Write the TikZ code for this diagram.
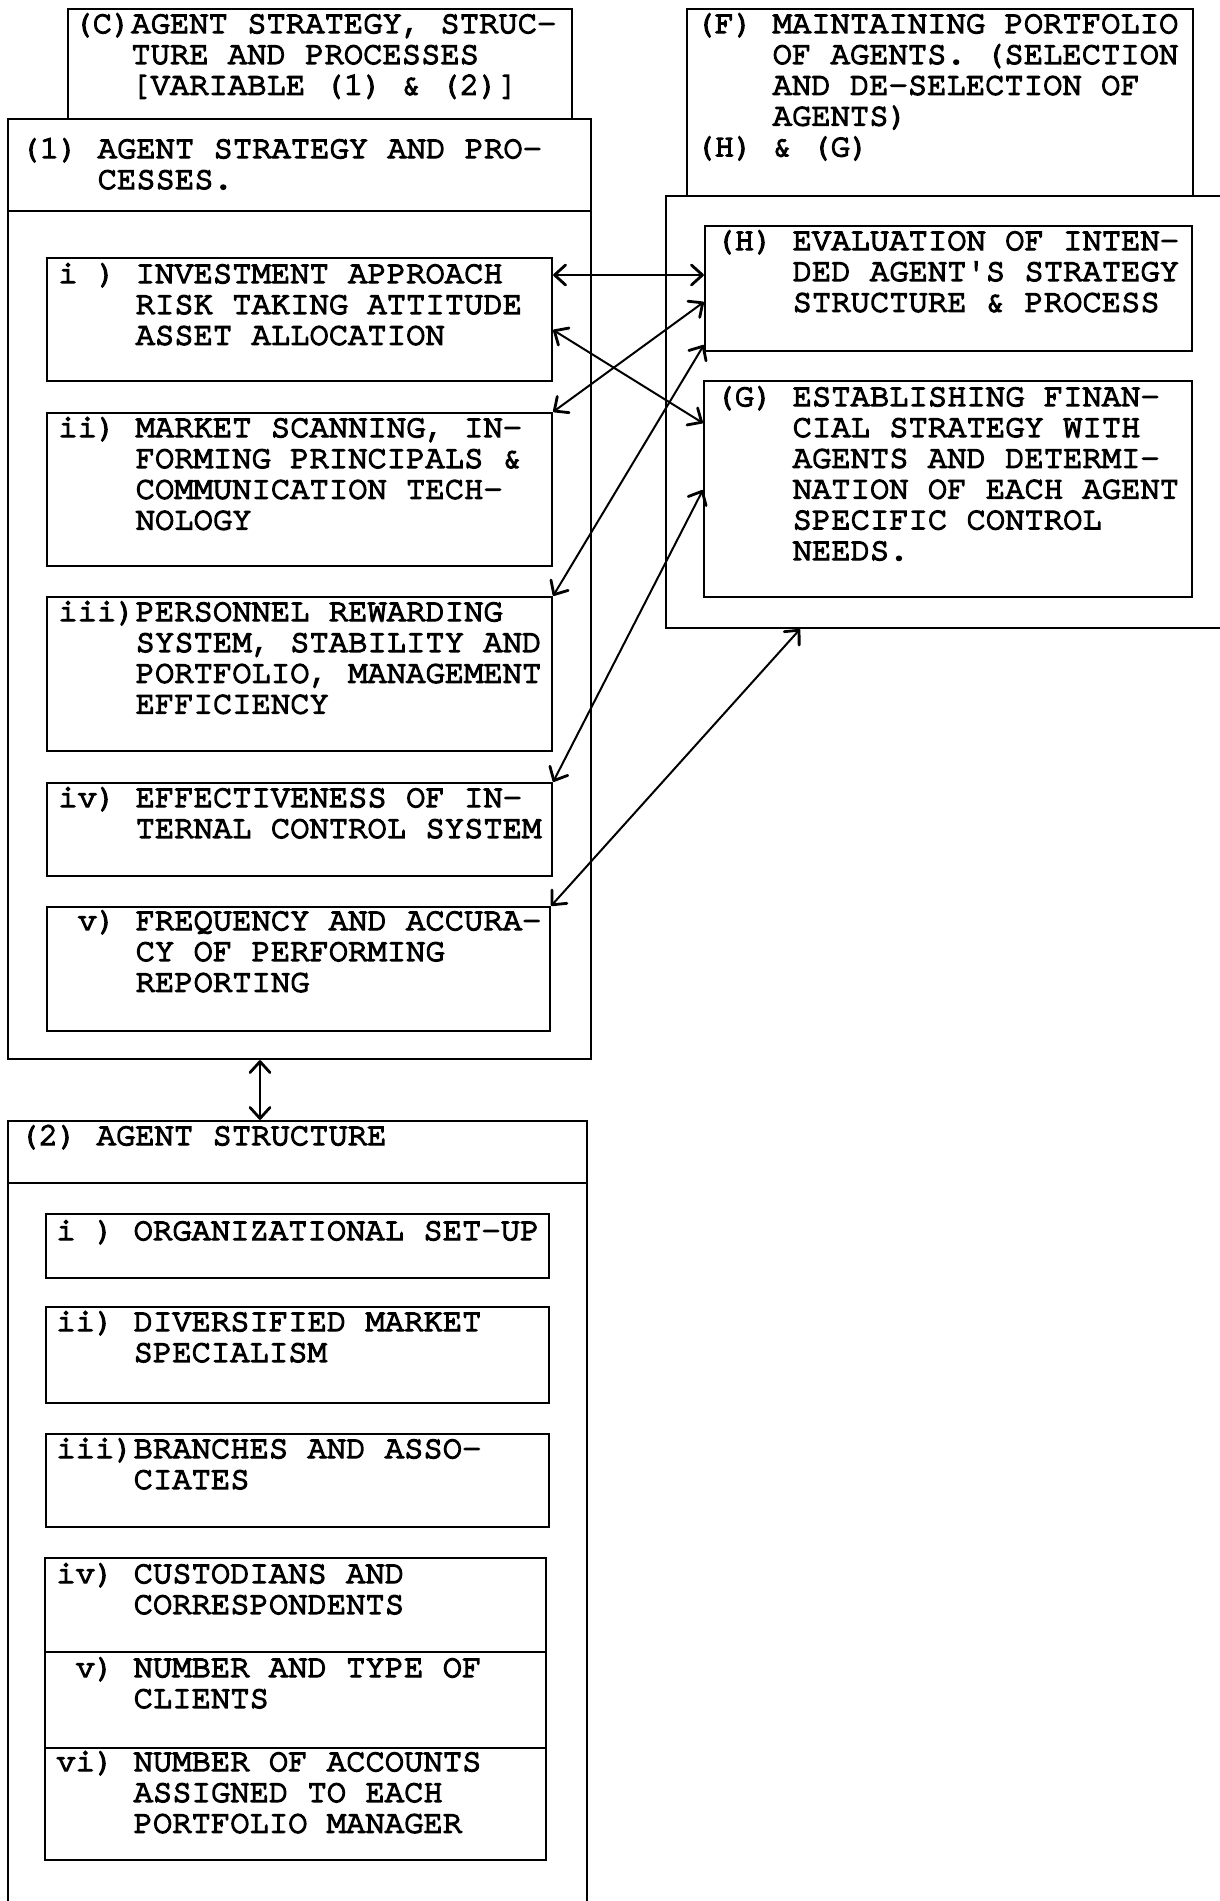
\documentclass[tikz,border=0pt]{standalone}
\usepackage{fontspec}
\setmonofont{TeX Gyre Cursor}[UprightFeatures={FakeBold=4.5}]
\usetikzlibrary{fit,arrows.meta,calc}
\newcommand\ind{\hspace*{2.4em}}
\newcommand\tx[3]{\node[anchor=base west,inner sep=0pt] (#1) at (#2) {\parbox[t]{280pt}{\raggedright\ttfamily\fontsize{16.1pt}{15.4pt}\selectfont #3}};}
\begin{document}
\begin{tikzpicture}[x=0.5pt,y=-0.5pt,
  box/.style={draw, line width=1.15pt, inner sep=0pt},
  sep/.style={line width=1.15pt},
  link/.style={line width=1pt, {Straight Barb[length=5.5pt,width=10pt,line width=1.4pt,round]}-{Straight Barb[length=5.5pt,width=10pt,line width=1.4pt,round]}}]
\useasboundingbox (0,0) rectangle (1220,1901);
\fill[white] (0,0) rectangle (1220,1901);
\clip (0,0) rectangle (1220,1901);
% outer boxes
\node[box, fit={(68,9) (572,119)}] (C) {};
\node[box, fit={(687,9) (1193,196)}] (F) {};
\node[box, fit={(8,119) (591,1059)}] (B1) {};
\node[box, fit={(666,196) (1240,628)}] (R) {};
\node[box, fit={(8,1121) (587,1915)}] (B2) {};
\draw[sep] (B1.west |- 0,211) -- (B1.east |- 0,211);
\draw[sep] (B2.west |- 0,1183) -- (B2.east |- 0,1183);
% inner boxes
\node[box, fit={(705,226) (1192,351)}] (H) {};
\node[box, fit={(704,381) (1192,597)}] (G) {};
\node[box, fit={(47,258) (552,381)}] (p1) {};
\node[box, fit={(47,413) (552,566)}] (p2) {};
\node[box, fit={(47,597) (552,751)}] (p3) {};
\node[box, fit={(47,783) (552,876)}] (p4) {};
\node[box, fit={(47,907) (550,1031)}] (p5) {};
\node[box, fit={(46,1214) (549,1278)}] (s1) {};
\node[box, fit={(46,1307) (549,1403)}] (s2) {};
\node[box, fit={(46,1434) (549,1527)}] (s3) {};
\node[box, fit={(45,1558) (546,1652)}] (s4) {};
\node[box, fit={(45,1652) (546,1748)}] (s5) {};
\node[box, fit={(45,1748) (546,1860)}] (s6) {};
% texts
\tx{tC}{73,33}{(C)AGENT STRATEGY, STRUC-\\\hphantom{(C)}TURE AND PROCESSES\\\hphantom{(C)}[VARIABLE (1) \& (2)]}
\tx{tF}{695,33}{(F) MAINTAINING PORTFOLIO\\\ind OF AGENTS. (SELECTION\\\ind AND DE-SELECTION OF\\\ind AGENTS)\\(H) \& (G)}
\tx{tB1}{20,158}{(1) AGENT STRATEGY AND PRO-\\\ind CESSES.}
\tx{tp1}{58,283}{i ) INVESTMENT APPROACH\\\ind RISK TAKING ATTITUDE\\\ind ASSET ALLOCATION}
\tx{tp2}{58,437}{ii) MARKET SCANNING, IN-\\\ind FORMING PRINCIPALS \&\\\ind COMMUNICATION TECH-\\\ind NOLOGY}
\tx{tp3}{58,621}{iii)PERSONNEL REWARDING\\\ind SYSTEM, STABILITY AND\\\ind PORTFOLIO, MANAGEMENT\\\ind EFFICIENCY}
\tx{tp4}{58,807}{iv) EFFECTIVENESS OF IN-\\\ind TERNAL CONTROL SYSTEM}
\tx{tp5}{58,930}{\hphantom{i}v) FREQUENCY AND ACCURA-\\\ind CY OF PERFORMING\\\ind REPORTING}
\tx{tH}{715,250}{(H) EVALUATION OF INTEN-\\\ind DED AGENT'S STRATEGY\\\ind STRUCTURE \& PROCESS}
\tx{tG}{715,406}{(G) ESTABLISHING FINAN-\\\ind CIAL STRATEGY WITH\\\ind AGENTS AND DETERMI-\\\ind NATION OF EACH AGENT\\\ind SPECIFIC CONTROL\\\ind NEEDS.}
\tx{tB2}{19,1145}{(2) AGENT STRUCTURE}
\tx{ts1}{56,1240}{i ) ORGANIZATIONAL SET-UP}
\tx{ts2}{56,1331}{ii) DIVERSIFIED MARKET\\\ind SPECIALISM}
\tx{ts3}{56,1458}{iii)BRANCHES AND ASSO-\\\ind CIATES}
\tx{ts4}{56,1583}{iv) CUSTODIANS AND\\\ind CORRESPONDENTS}
\tx{ts5}{56,1677}{\hphantom{i}v) NUMBER AND TYPE OF\\\ind CLIENTS}
\tx{ts6}{56,1771}{vi) NUMBER OF ACCOUNTS\\\ind ASSIGNED TO EACH\\\ind PORTFOLIO MANAGER}
% connectors
\draw[link] (p1.east |- 0,275) -- (H.west |- 0,275);
\draw[link] (p1.east |- 0,330) -- (G.west |- 0,423);
\draw[link] (p2.north east) -- (H.west |- 0,302);
\draw[link] (p3.north east) -- (H.west |- 0,345);
\draw[link] (p4.north east) -- (G.west |- 0,490);
\draw[link] (p5.north east) -- (R.south -| 800,0);
\draw[link] (B1.south -| 260,0) -- (B2.north -| 260,0);
\end{tikzpicture}
\end{document}
